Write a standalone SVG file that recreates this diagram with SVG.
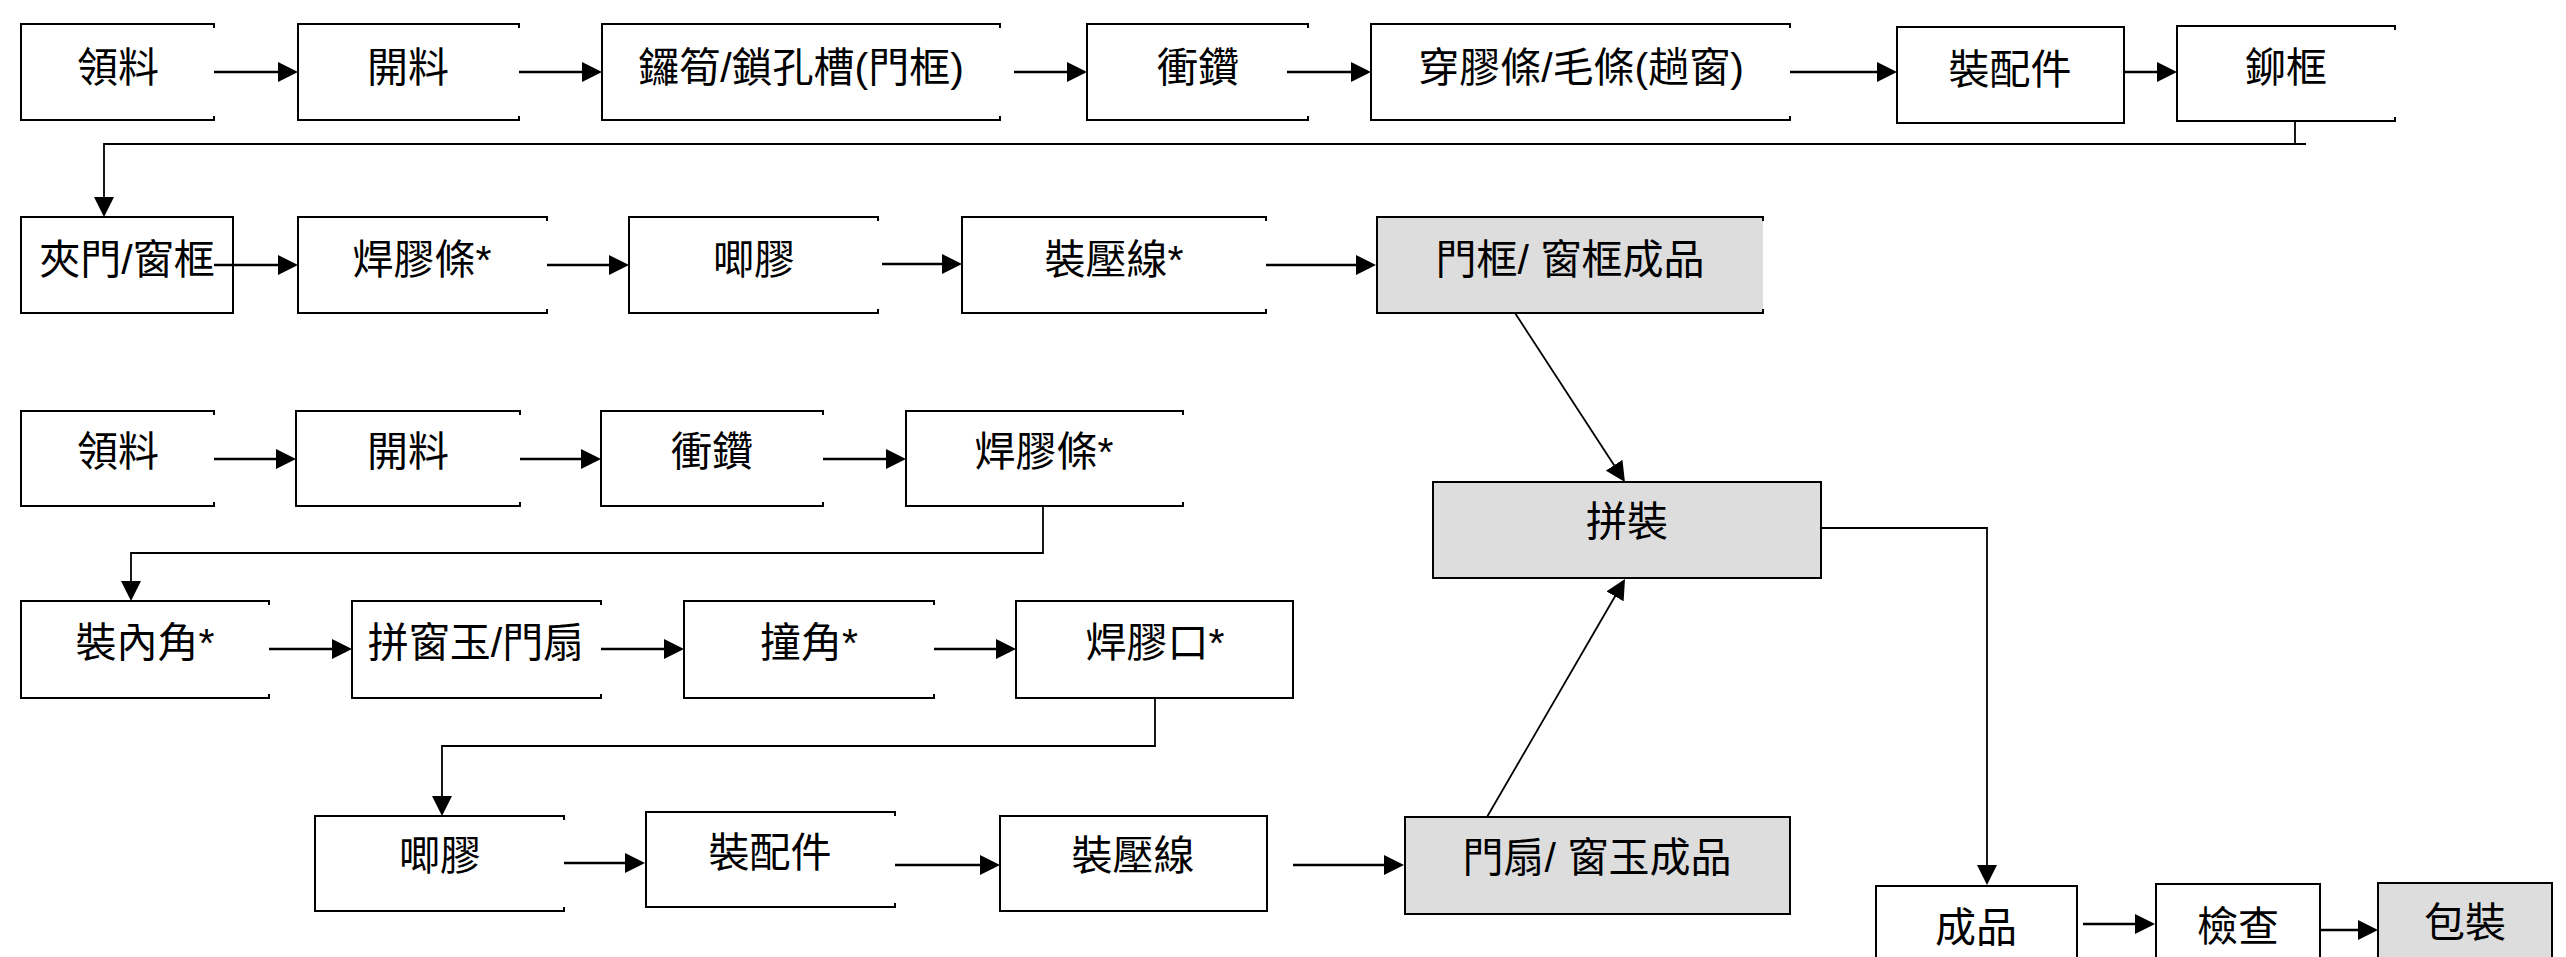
<svg xmlns="http://www.w3.org/2000/svg" width="2566" height="957" viewBox="0 0 2566 957">
<style>
.b{fill:#fff;stroke:#000;stroke-width:2}
.g{fill:#dddddd;stroke:#000;stroke-width:2}
.o{fill:none;stroke:#000;stroke-width:2}
.gf{fill:#dddddd;stroke:none}
.t{font-family:"Liberation Sans","Noto Sans CJK TC",sans-serif;font-size:41px;text-anchor:middle;fill:#000}
.a{fill:none;stroke:#000;stroke-width:2.5;marker-end:url(#ah)}
.c{fill:none;stroke:#000;stroke-width:1.8;marker-end:url(#ah)}
.l{fill:none;stroke:#000;stroke-width:1.8}
</style>
<defs>
<marker id="ah" viewBox="0 0 20 20" refX="10" refY="10" markerWidth="20" markerHeight="20" markerUnits="userSpaceOnUse" orient="auto">
<path d="M0,0 L20,10 L0,20 z" fill="#000"/>
</marker>
</defs>
<rect width="2566" height="957" fill="#fff"/>

<g id="n1"><path class="o" d="M214,28 V24 H21 V120 H214 V116"/><text class="t" x="118" y="82">領料</text></g>
<g id="n2"><path class="o" d="M519,28 V24 H298 V120 H519 V116"/><text class="t" x="408" y="82">開料</text></g>
<g id="n3"><path class="o" d="M1000,28 V24 H602 V120 H1000 V116"/><text class="t" x="801" y="82">鑼筍/鎖孔槽(門框)</text></g>
<g id="n4"><path class="o" d="M1308,28 V24 H1087 V120 H1308 V116"/><text class="t" x="1198" y="82">衝鑽</text></g>
<g id="n5"><path class="o" d="M1790,28 V24 H1371 V120 H1790 V116"/><text class="t" x="1581" y="82">穿膠條/毛條(趟窗)</text></g>
<g id="n6"><rect class="b" x="1897" y="27" width="227" height="96"/><text class="t" x="2010" y="84">裝配件</text></g>
<g id="n7"><path class="o" d="M2395,30 V26 H2177 V121 H2395 V117"/><text class="t" x="2286" y="82">鉚框</text></g>

<g id="m1"><rect class="b" x="21" y="217" width="212" height="96"/><text class="t" x="127" y="274">夾門/窗框</text></g>
<g id="m2"><path class="o" d="M547,221 V217 H298 V313 H547 V309"/><text class="t" x="422" y="274">焊膠條*</text></g>
<g id="m3"><path class="o" d="M878,221 V217 H629 V313 H878 V309"/><text class="t" x="754" y="274">唧膠</text></g>
<g id="m4"><path class="o" d="M1266,221 V217 H962 V313 H1266 V309"/><text class="t" x="1114" y="274">裝壓線*</text></g>
<g id="m5"><rect class="gf" x="1377" y="217" width="386" height="96"/><path class="o" d="M1763,221 V217 H1377 V313 H1763 V309"/><path class="o" d="M1377,217 H1763" stroke-width="3"/><text class="t" x="1570" y="274">門框/ 窗框成品</text></g>

<g id="p1"><path class="o" d="M214,415 V411 H21 V506 H214 V502"/><text class="t" x="118" y="466">領料</text></g>
<g id="p2"><path class="o" d="M520,415 V411 H296 V506 H520 V502"/><text class="t" x="408" y="466">開料</text></g>
<g id="p3"><path class="o" d="M823,415 V411 H601 V506 H823 V502"/><text class="t" x="712" y="466">衝鑽</text></g>
<g id="p4"><path class="o" d="M1183,415 V411 H906 V506 H1183 V502"/><text class="t" x="1044" y="466">焊膠條*</text></g>

<g id="q1"><path class="o" d="M269,605 V601 H21 V698 H269 V694"/><text class="t" x="145" y="657">裝內角*</text></g>
<g id="q2"><path class="o" d="M601,605 V601 H352 V698 H601 V694"/><text class="t" x="476" y="657">拼窗玉/門扇</text></g>
<g id="q3"><path class="o" d="M934,605 V601 H684 V698 H934 V694"/><text class="t" x="809" y="657">撞角*</text></g>
<g id="q4"><rect class="b" x="1016" y="601" width="277" height="97"/><text class="t" x="1155" y="657">焊膠口*</text></g>

<g id="r1"><path class="o" d="M564,820 V816 H315 V911 H564 V907"/><text class="t" x="440" y="870">唧膠</text></g>
<g id="r2"><path class="o" d="M895,816 V812 H646 V907 H895 V903"/><text class="t" x="770" y="867">裝配件</text></g>
<g id="r3"><rect class="b" x="1000" y="816" width="267" height="95"/><text class="t" x="1133" y="870">裝壓線</text></g>
<g id="r4"><rect class="g" x="1405" y="817" width="385" height="97"/><text class="t" x="1597" y="872">門扇/ 窗玉成品</text></g>

<g id="s1"><rect class="g" x="1433" y="482" width="388" height="96"/><text class="t" x="1627" y="536">拼裝</text></g>
<g id="s2"><rect class="b" x="1876" y="886" width="201" height="80"/><path class="o" d="M1876,886 H2077" stroke-width="3"/><text class="t" x="1976" y="942">成品</text></g>
<g id="s3"><rect class="b" x="2156" y="884" width="164" height="80"/><text class="t" x="2238" y="941">檢查</text></g>
<g id="s4"><rect class="g" x="2378" y="883" width="174" height="80"/><text class="t" x="2465" y="937">包裝</text></g>

<g id="connectors">
<path class="a" d="M214,72 H288"/>
<path class="a" d="M519,72 H592"/>
<path class="a" d="M1014,72 H1077"/>
<path class="a" d="M1287,72 H1361"/>
<path class="a" d="M1790,72 H1887"/>
<path class="a" d="M2124,72 H2167"/>
<path class="l" d="M2295,121 V144"/>
<path class="c" d="M2306,144 H104 V207"/>

<path class="a" d="M214,265 H288"/>
<path class="a" d="M547,265 H619"/>
<path class="a" d="M882,264 H952"/>
<path class="a" d="M1266,265 H1366"/>
<path class="c" d="M1515,313 L1619.5,473.6"/>

<path class="a" d="M214,459 H286"/>
<path class="a" d="M520,459 H591"/>
<path class="a" d="M823,459 H896"/>
<path class="c" d="M1043,506 V553 H131 V591"/>

<path class="a" d="M269,649 H342"/>
<path class="a" d="M601,649 H674"/>
<path class="a" d="M934,649 H1006"/>
<path class="c" d="M1155,698 V746 H442 V806"/>

<path class="a" d="M564,863 H635"/>
<path class="a" d="M895,865 H990"/>
<path class="a" d="M1293,865 H1394"/>
<path class="c" d="M1487,817 L1620,587.7"/>

<path class="c" d="M1821,528 H1987 V875"/>
<path class="a" d="M2083,924 H2145"/>
<path class="a" d="M2320,930 H2368"/>
</g>
</svg>
